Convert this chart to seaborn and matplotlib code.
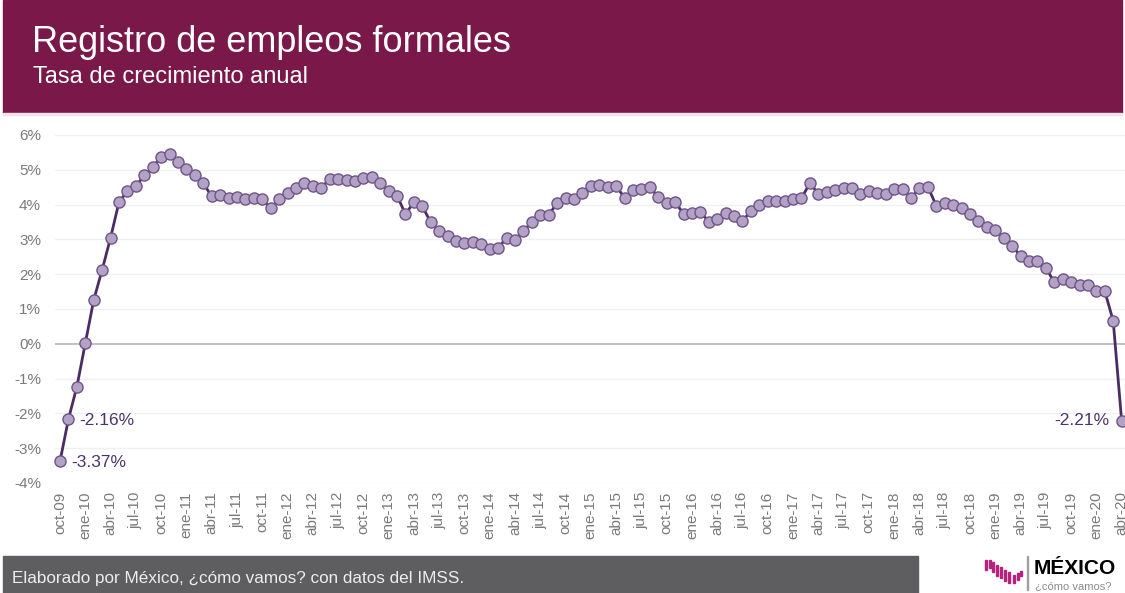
import matplotlib
matplotlib.use("Agg")
import matplotlib.pyplot as plt
import seaborn as sns
import pandas as pd
from matplotlib.patches import Rectangle

# data: annual growth rate of formal jobs (IMSS), oct-2009 .. abr-2020
month_names = ["ene", "feb", "mar", "abr", "may", "jun",
               "jul", "ago", "sep", "oct", "nov", "dic"]
start_year, start_month = 2009, 10   # oct-09
growth = [
    -3.37, -2.16, -1.23, 0.02, 1.26, 2.13, 3.05, 4.08, 4.38, 4.53,
    4.84, 5.07, 5.37, 5.44, 5.21, 5.03, 4.84, 4.61, 4.24, 4.28,
    4.20, 4.22, 4.15, 4.18, 4.15, 3.89, 4.15, 4.33, 4.47, 4.61,
    4.53, 4.49, 4.73, 4.73, 4.71, 4.68, 4.77, 4.79, 4.63, 4.39,
    4.26, 3.72, 4.08, 3.95, 3.49, 3.25, 3.10, 2.96, 2.90, 2.93,
    2.86, 2.72, 2.75, 3.05, 2.99, 3.25, 3.49, 3.71, 3.70, 4.05,
    4.20, 4.17, 4.34, 4.53, 4.57, 4.50, 4.53, 4.20, 4.41, 4.44,
    4.50, 4.22, 4.04, 4.07, 3.74, 3.76, 3.79, 3.51, 3.58, 3.76,
    3.68, 3.54, 3.81, 4.00, 4.10, 4.10, 4.10, 4.16, 4.18, 4.62,
    4.31, 4.35, 4.41, 4.48, 4.48, 4.31, 4.38, 4.33, 4.31, 4.45,
    4.45, 4.18, 4.48, 4.51, 3.97, 4.05, 4.00, 3.91, 3.72, 3.54,
    3.37, 3.28, 3.05, 2.82, 2.52, 2.37, 2.37, 2.19, 1.77, 1.85,
    1.79, 1.68, 1.70, 1.53, 1.51, 0.66, -2.21,
]
labels = []
for k in range(len(growth)):
    m = (start_month - 1 + k) % 12
    y = start_year + (start_month - 1 + k) // 12
    labels.append(f"{month_names[m]}-{str(y)[2:]}")

df = pd.DataFrame({"idx": range(len(growth)), "mes": labels, "tasa": growth})
annotated = [0, 1, len(growth) - 1]

# colours
maroon = "#7A1849"
line_col = "#4A2C63"
marker_fill = "#B3A2C6"
marker_edge = "#6E5488"
text_purple = "#4D3468"
gray_txt = "#7A7A7A"

sns.set_style("white")
plt.rcParams["font.family"] = ["Liberation Sans", "DejaVu Sans"]

W, H = 1125, 593
fig = plt.figure(figsize=(W / 100, H / 100), dpi=100)
fig.patch.set_facecolor("white")

# header band
fig.patches.append(Rectangle((3 / W, 1 - 113 / H), 1119 / W, 113 / H,
                             transform=fig.transFigure, color=maroon, zorder=0))
fig.patches.append(Rectangle((3 / W, 1 - 115 / H), 1119 / W, 2 / H,
                             transform=fig.transFigure, color="#EFE4EA", zorder=0))
fig.text(32 / W, 1 - 43 / H, "Registro de empleos formales", color="white",
         fontsize=26, va="center", ha="left")
fig.text(33 / W, 1 - 77 / H, "Tasa de crecimiento anual", color="white",
         fontsize=17, va="center", ha="left")

# chart
ax = fig.add_axes([55 / W, 1 - 483 / H, 1070 / W, 348 / H])
ax.set_xlim(-0.6, 126.4)
ax.set_ylim(-4, 6)
for v in range(-4, 7):
    ax.axhline(v, color="#BDBDBD" if v == 0 else "#F0F0F0",
               lw=1.3 if v == 0 else 1, zorder=1)

sns.lineplot(data=df, x="idx", y="tasa", ax=ax, color=line_col, lw=2,
             marker="o", markersize=8, markerfacecolor=marker_fill,
             markeredgecolor=marker_edge, markeredgewidth=1, zorder=3,
             clip_on=False)

for k in annotated:
    val = growth[k]
    txt = f"{val:.2f}%"
    if k == len(growth) - 1:
        ax.annotate(txt, (k, val), xytext=(-9, 0), textcoords="offset points",
                    ha="right", va="center", color=text_purple, fontsize=12.5)
    else:
        ax.annotate(txt, (k, val), xytext=(8, -1), textcoords="offset points",
                    ha="left", va="center", color=text_purple, fontsize=12.5)

ax.set_yticks(range(-4, 7))
ax.set_yticklabels([f"{v}%" for v in range(-4, 7)])
tick_idx = list(range(0, len(growth), 3))
ax.set_xticks(tick_idx)
ax.set_xticklabels([labels[i] for i in tick_idx], rotation=90)
ax.tick_params(axis="y", length=0, pad=10, labelsize=11, labelcolor=gray_txt)
ax.tick_params(axis="x", length=0, pad=6, labelsize=11, labelcolor=gray_txt)
ax.set_xlabel("")
ax.set_ylabel("")
sns.despine(ax=ax, left=True, bottom=True)

# footer bar
fig.patches.append(Rectangle((3 / W, 0), 915 / W, 37 / H,
                             transform=fig.transFigure, color="#5E5E60", zorder=0))
fig.text(12 / W, 14 / H, "Elaborado por México, ¿cómo vamos? con datos del IMSS.",
         color="#EDEDED", fontsize=12.3, va="center", ha="left")

# logo: descending magenta bars
bars = [(985, 560, 570), (988.5, 560, 568), (992, 562, 572), (996, 565, 576),
        (1000, 567, 578), (1004, 570, 581), (1008, 572, 583), (1012.5, 575, 583),
        (1016.5, 573, 580), (1020, 571, 576)]
for bx, top, bot in bars:
    fig.patches.append(Rectangle((bx / W, (H - bot) / H), 2.4 / W, (bot - top) / H,
                                 transform=fig.transFigure, color="#B5237F"))
fig.patches.append(Rectangle((1027 / W, 3 / H), 1 / W, 34 / H,
                             transform=fig.transFigure, color="#A0A0A0"))
fig.text(1034 / W, 24 / H, "MÉXICO", color="black", fontsize=15,
         fontweight="bold", va="center", ha="left")
fig.text(1035 / W, 7 / H, "¿cómo vamos?", color="#8A8A8A", fontsize=8,
         va="center", ha="left")

fig.savefig("out.png", dpi=100)
